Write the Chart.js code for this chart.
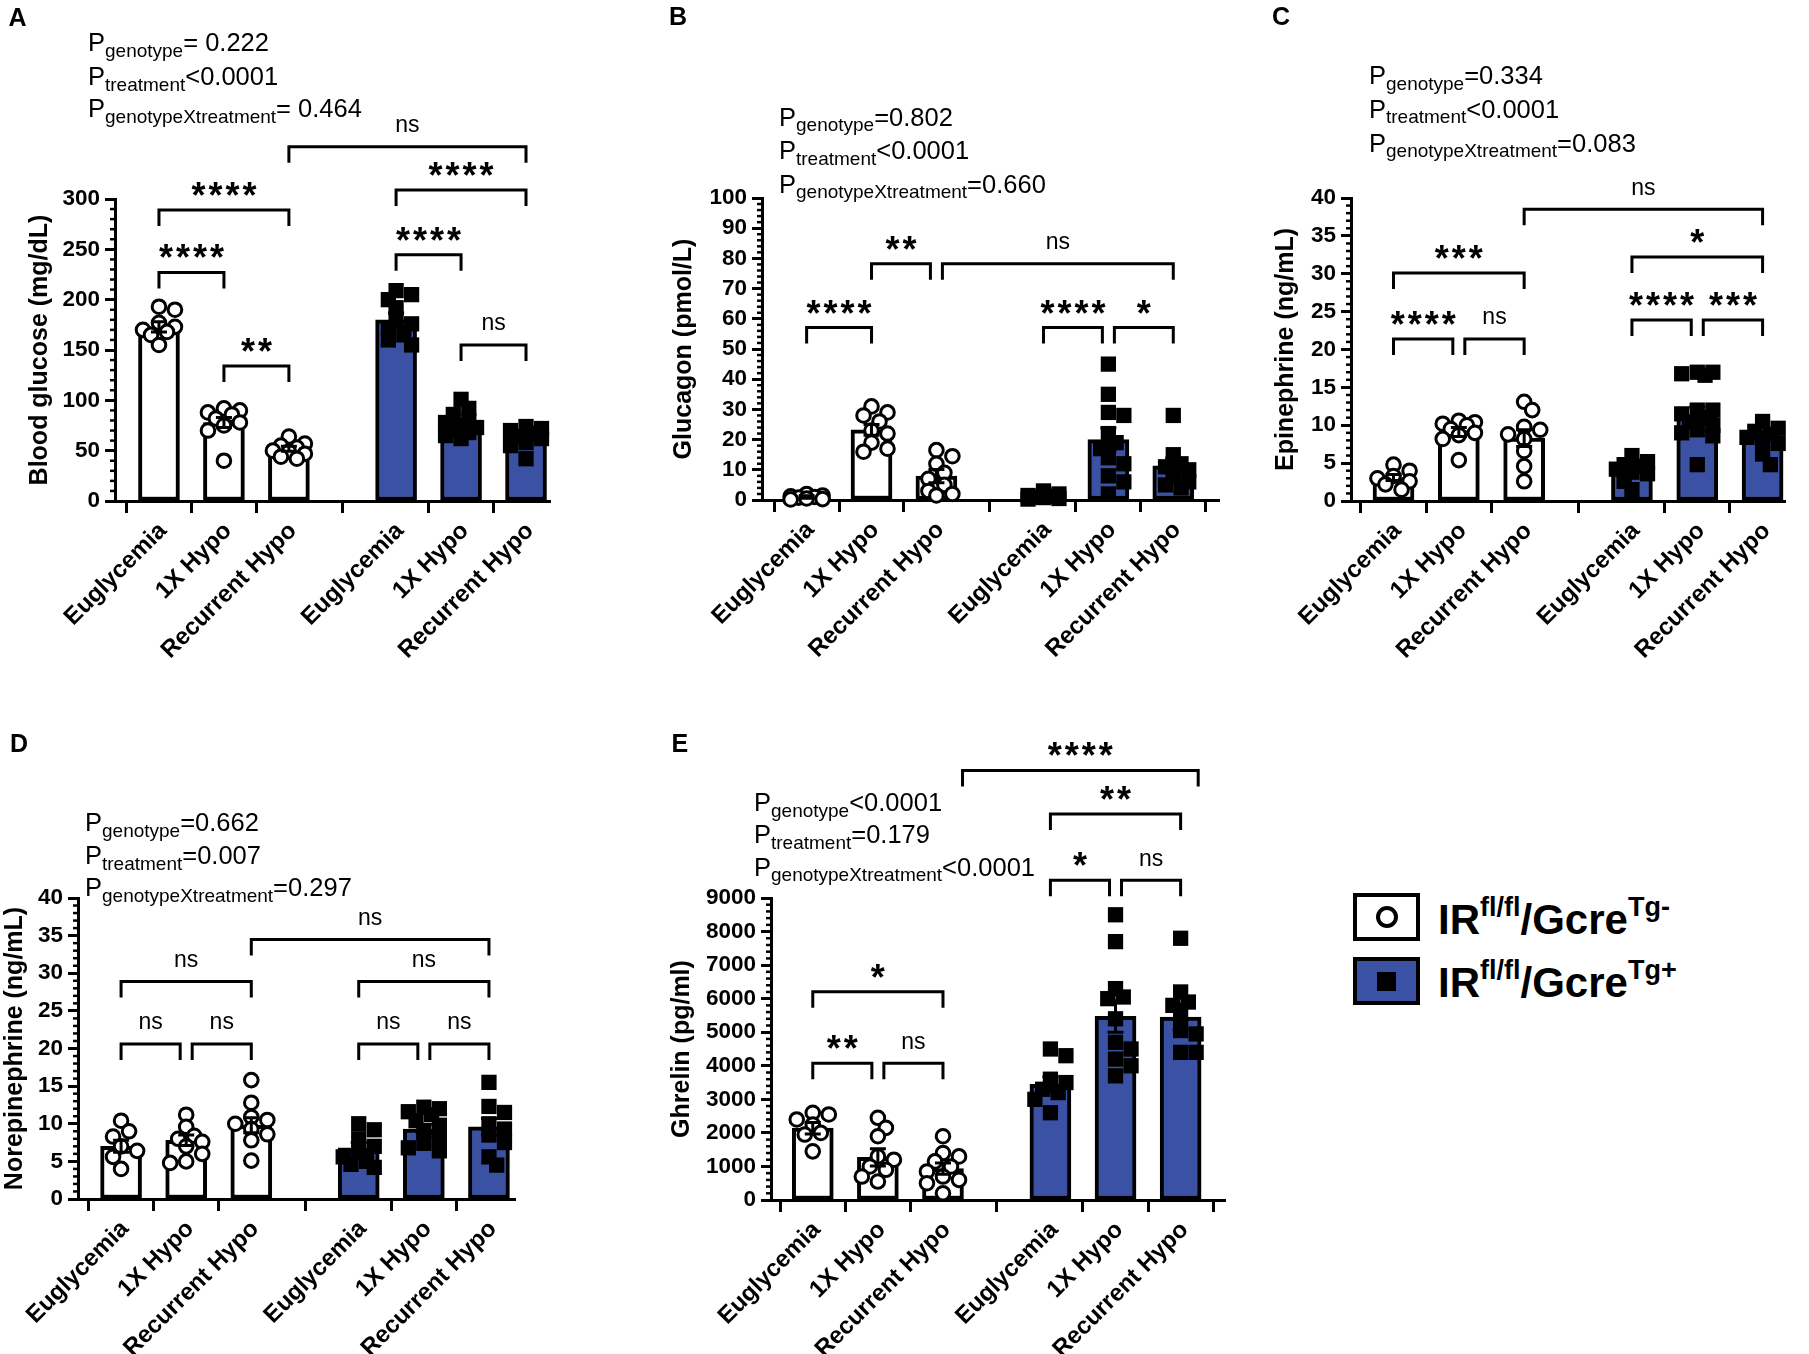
<!DOCTYPE html>
<html>
<head>
<meta charset="utf-8">
<script src="https://cdn.jsdelivr.net/npm/chart.js@4.4.0/dist/chart.umd.min.js"></script>
<style>
  body { margin: 0; background: #fff; width: 1809px; height: 1354px; position: relative; overflow: hidden;
         font-family: "Liberation Sans", Arial, sans-serif; }
  canvas { position: absolute; }
  .lgbox { position: absolute; width: 67px; height: 48px; border: 4px solid #000; box-sizing: border-box; }
  .lgcirc { position: absolute; left: 50%; top: 50%; width: 22px; height: 22px; margin: -11px 0 0 -11px;
            border: 4px solid #000; border-radius: 50%; box-sizing: border-box; }
  .lgsq { position: absolute; left: 50%; top: 50%; width: 19px; height: 19px; margin: -9.5px 0 0 -9.5px; background: #000; }
  .lgtext { position: absolute; font-weight: bold; font-size: 42px; line-height: 1; white-space: nowrap; }
  .lgtext .sup { font-size: 27px; vertical-align: 18px; line-height: 0; }
</style>
</head>
<body>
<div class="lgbox" style="left:1353px;top:893px;background:#fff"><div class="lgcirc"></div></div>
<div class="lgbox" style="left:1353px;top:957px;background:#3b51a3"><div class="lgsq"></div></div>
<div class="lgtext" style="left:1438px;top:899px">IR<span class="sup">fl/fl</span>/Gcre<span class="sup">Tg-</span></div>
<div class="lgtext" style="left:1438px;top:962px">IR<span class="sup">fl/fl</span>/Gcre<span class="sup">Tg+</span></div>

<script>
// Shared x categories (3 wild-type groups, then 3 knock-out groups)
const categories = ['Euglycemia', '1X Hypo', 'Recurrent Hypo', 'Euglycemia', '1X Hypo', 'Recurrent Hypo'];

// A - Blood glucose (mg/dL)
const glucoseMeans = [173, 78, 52, 180, 75, 63];
const glucoseSem = [5, 5, 2.5, 7, 3, 3];
const glucosePoints = [
    [193, 190, 177, 173, 170, 168, 165, 155],
    [92, 90, 88, 86, 82, 78, 75, 70, 40],
    [64, 57, 55, 53, 50, 49, 47, 44, 42],
    [209, 205, 200, 192, 180, 176, 172, 165, 160, 155],
    [101, 92, 86, 80, 78, 75, 73, 70, 68, 65, 62],
    [74, 72, 70, 67, 64, 62, 58, 55, 42]
];
const glucoseBrackets = [
    [0, 1, 227, '****'], [0, 2, 289, '****'], [1, 2, 134, '**'],
    [3, 4, 244.5, '****'], [3, 5, 309, '****'], [4, 5, 155, 'ns'], [2, 5, 352, 'ns']
];

// B - Glucagon (pmol/L)
const glucagonMeans = [1, 23.2, 7.9, 1.4, 20, 11.3];
const glucagonSem = [0.4, 1.8, 2.2, 0.5, 3.8, 2.6];
const glucagonPoints = [
    [2, 1.5, 1.2, 1, 0.8, 0.5, 0.3, 0.2],
    [31, 29, 28, 26, 23, 22, 19, 17, 16],
    [16.5, 14.5, 12, 9, 7, 5, 3, 2, 1.5],
    [3, 2, 1.5, 1.2, 1, 0.8, 0.5, 0.3],
    [45, 35, 29, 28, 22, 19, 17, 14, 12, 8, 6, 2],
    [28, 15, 12, 11, 10, 8, 6, 5, 4]
];
const glucagonBrackets = [
    [0, 1, 57.1, '****'], [1, 2, 78.2, '**'], [2, 5, 78.2, 'ns'],
    [3, 4, 57.1, '****'], [4, 5, 57.1, '*']
];

// C - Epinephrine (ng/mL)
const epiMeans = [3.1, 9.1, 8.3, 4.3, 11.4, 8.6];
const epiSem = [0.4, 0.6, 1.1, 0.5, 1.0, 0.6];
const epiPoints = [
    [4.8, 4, 3.3, 3, 2.6, 2.2, 1.5],
    [10.6, 10.4, 10.2, 10, 9.5, 9, 8.7, 8.2, 5.4],
    [13.1, 12, 9.8, 9.4, 8.8, 8.2, 6.6, 4.6, 2.6],
    [6, 5.2, 4.8, 4.6, 4.2, 3.8, 3.6, 2.6, 1.5],
    [17, 17, 16.8, 16.6, 12, 11.5, 12, 11, 10.4, 10, 9.4, 9, 8.6, 4.8],
    [10.5, 9.6, 9.2, 8.8, 8.4, 8, 7.6, 6.2, 4.8]
];
const epiBrackets = [
    [0, 1, 21.4, '****'], [1, 2, 21.4, 'ns'], [0, 2, 30.1, '***'], [2, 5, 38.5, 'ns'],
    [3, 4, 23.9, '****'], [4, 5, 23.9, '***'], [3, 5, 32.2, '*']
];

// D - Norepinephrine (ng/mL)
const norMeans = [7, 7.8, 9.8, 6.8, 9.3, 9.6];
const norSem = [0.8, 0.7, 1.0, 0.7, 0.6, 1.1];
const norPoints = [
    [10.4, 9, 8.3, 7, 6.4, 5.6, 4],
    [11.2, 9.6, 8.4, 8, 7.6, 7, 6, 5, 4.8],
    [15.8, 12.8, 10.9, 10.5, 10, 9.3, 8.6, 7.8, 5.1],
    [10, 9.2, 8, 7, 6.2, 5.6, 5, 4.6, 4.2],
    [12.2, 12, 11.6, 11.2, 10.4, 9.8, 9, 8.2, 7.4, 6.8, 6.4],
    [15.5, 12.3, 11.5, 10, 9.3, 8.5, 7.5, 5.6, 4.5]
];
const norBrackets = [
    [0, 1, 20.6, 'ns'], [1, 2, 20.6, 'ns'], [0, 2, 28.9, 'ns'], [2, 5, 34.5, 'ns'],
    [3, 4, 20.6, 'ns'], [4, 5, 20.6, 'ns'], [3, 5, 28.9, 'ns']
];

// E - Ghrelin (pg/ml)
const ghrelinMeans = [2140, 1270, 935, 3450, 5470, 5450];
const ghrelinSem = [170, 260, 170, 220, 470, 380];
const ghrelinPoints = [
    [2600, 2550, 2400, 2250, 2000, 1950, 1450],
    [2450, 2150, 1900, 1300, 1200, 1000, 900, 700, 550],
    [1900, 1400, 1300, 1150, 1000, 850, 700, 600, 500, 200],
    [4500, 4300, 3600, 3500, 3300, 3200, 3000, 2600],
    [8500, 7700, 6300, 6050, 6000, 5400, 4700, 4500, 4200, 4000, 3700],
    [7800, 6200, 5900, 5800, 5500, 5050, 4950, 4400, 4400]
];
const ghrelinBrackets = [
    [0, 1, 4075, '**'], [1, 2, 4075, 'ns'], [0, 2, 6208, '*'],
    [3, 4, 9528, '*'], [4, 5, 9528, 'ns'], [3, 5, 11505, '**'], [2, 5, 12800, '****', 0.3, 0.27]
];

const FONT = '"Liberation Sans", Arial, sans-serif';
const BLUE = '#3b51a3';
const BAR_POS = [0, 1, 2, 3.65, 4.65, 5.65];
const PX_PER_X = 65;     // pixels between neighbouring bars
const PLOT_H = 302;      // plot height in pixels

Chart.defaults.font.family = FONT;
Chart.defaults.color = '#000';

// spread points sideways so they don't sit on top of each other (like a scatter dot plot)
function swarm(values, pxPerY, diam) {
    const step = diam * 0.5;
    const minDist = diam * 0.7;
    const placed = [];
    const offs = new Array(values.length);
    values.map((v, i) => i).sort((a, b) => values[b] - values[a]).forEach(i => {
        const py = values[i] * pxPerY;
        let best = 0, bestD = -1;
        for (let k = 0; k < 5; k++) {
            const off = Math.ceil(k / 2) * step * (k % 2 ? 1 : -1);
            let d = Infinity;
            placed.forEach(p => { d = Math.min(d, Math.hypot(p[0] - off, p[1] - py)); });
            if (d >= minDist) { best = off; break; }
            if (d > bestD) { bestD = d; best = off; }
        }
        placed.push([best, py]);
        offs[i] = best;
    });
    return offs;
}

function drawLabel(ctx, text, cx, cy) {
    const stars = text.includes('*');
    ctx.font = stars ? `bold 36px ${FONT}` : `23px ${FONT}`;
    ctx.letterSpacing = stars ? '3px' : '0px';
    const m = ctx.measureText(text);
    const w = m.width - (stars ? 3 : 0);
    ctx.textAlign = 'left';
    ctx.textBaseline = 'alphabetic';
    ctx.fillText(text, cx - w / 2, cy + (m.actualBoundingBoxAscent - m.actualBoundingBoxDescent) / 2);
    ctx.letterSpacing = '0px';
}

// minor ticks, error bars, significance brackets, panel letter and ANOVA text
const panelDecor = {
    id: 'panelDecor',
    afterDraw(chart, args, opts) {
        const { ctx, scales: { x, y } } = chart;
        ctx.save();
        ctx.strokeStyle = '#000';
        ctx.fillStyle = '#000';
        ctx.lineJoin = 'miter';

        // minor ticks
        ctx.lineWidth = 2.5;
        const nMinor = Math.round(y.max / opts.minorStep);
        const perMajor = Math.round(opts.majorStep / opts.minorStep);
        for (let i = 1; i < nMinor; i++) {
            if (i % perMajor === 0) continue;
            const py = y.getPixelForValue(i * opts.minorStep);
            ctx.beginPath();
            ctx.moveTo(x.left - 5, py);
            ctx.lineTo(x.left, py);
            ctx.stroke();
        }

        // error bars (mean +/- SEM)
        ctx.lineWidth = 3;
        opts.means.forEach((m, i) => {
            const px = x.getPixelForValue(BAR_POS[i]);
            const top = y.getPixelForValue(m + opts.sem[i]);
            const bot = y.getPixelForValue(Math.max(0, m - opts.sem[i]));
            ctx.beginPath();
            ctx.moveTo(px, top); ctx.lineTo(px, bot);
            ctx.moveTo(px - 8, top); ctx.lineTo(px + 8, top);
            ctx.moveTo(px - 8, bot); ctx.lineTo(px + 8, bot);
            ctx.stroke();
        });

        // brackets
        opts.brackets.forEach(b => {
            const [i1, i2, level, label, d1 = 0, d2 = 0] = b;
            const same = opts.brackets.filter(o => o !== b && Math.abs(o[2] - level) < 1e-9);
            let x1 = x.getPixelForValue(BAR_POS[i1] + d1);
            let x2 = x.getPixelForValue(BAR_POS[i2] + d2);
            if (same.some(o => o[1] === i1)) x1 += 6;
            if (same.some(o => o[0] === i2)) x2 -= 6;
            const py = y.getPixelForValue(level);
            ctx.lineWidth = 3;
            ctx.beginPath();
            ctx.moveTo(x1, py + 16); ctx.lineTo(x1, py); ctx.lineTo(x2, py); ctx.lineTo(x2, py + 16);
            ctx.stroke();
            drawLabel(ctx, label, (x1 + x2) / 2, py - 21);
        });

        // panel letter
        ctx.textAlign = 'left';
        ctx.textBaseline = 'alphabetic';
        ctx.font = `bold 25px ${FONT}`;
        ctx.fillText(opts.letter, opts.letterAt[0] - opts.left, opts.letterAt[1] - opts.top);

        // P values
        opts.pLines.forEach(([sub, rest], k) => {
            let px = opts.pX - opts.left;
            const base = opts.pBase[k] - opts.top;
            ctx.font = `25.5px ${FONT}`;
            ctx.fillText('P', px, base);
            px += ctx.measureText('P').width;
            ctx.font = `19px ${FONT}`;
            ctx.fillText(sub, px, base + 5.5);
            px += ctx.measureText(sub).width;
            ctx.font = `25.5px ${FONT}`;
            ctx.fillText(rest, px, base);
        });
        ctx.restore();
    }
};

function makePanel(p) {
    const canvas = document.createElement('canvas');
    canvas.width = p.width;
    canvas.height = p.height;
    canvas.style.left = p.left + 'px';
    canvas.style.top = p.top + 'px';
    canvas.style.width = p.width + 'px';
    canvas.style.height = p.height + 'px';
    document.body.appendChild(canvas);

    const pxPerY = PLOT_H / p.yMax;
    const whitePts = [], bluePts = [];
    p.points.forEach((vals, g) => {
        const diam = g < 3 ? 16 : 15.5;
        const offs = swarm(vals, pxPerY, diam);
        vals.forEach((v, k) => {
            (g < 3 ? whitePts : bluePts).push({ x: BAR_POS[g] + offs[k] / PX_PER_X, y: v });
        });
    });

    const xMin = -(p.firstBar - p.axisX) / PX_PER_X;
    const xMax = BAR_POS[5] + (p.right - p.lastBar) / PX_PER_X;

    new Chart(canvas, {
        type: 'bar',
        data: {
            datasets: [
                {
                    type: 'bar',
                    data: BAR_POS.map((x, i) => ({ x, y: p.means[i] })),
                    backgroundColor: ['#fff', '#fff', '#fff', BLUE, BLUE, BLUE],
                    borderColor: '#000',
                    borderWidth: 4,
                    borderSkipped: false,
                    barThickness: 41,
                    order: 2
                },
                {
                    type: 'scatter',
                    data: whitePts,
                    pointStyle: 'circle',
                    pointRadius: 6.8,
                    pointHoverRadius: 6.8,
                    pointBorderWidth: 3,
                    pointBorderColor: '#000',
                    pointBackgroundColor: '#fff',
                    clip: false,
                    order: 1
                },
                {
                    type: 'scatter',
                    data: bluePts,
                    pointStyle: 'rect',
                    pointRadius: 10.8,
                    pointHoverRadius: 10.8,
                    pointBorderWidth: 0,
                    pointBackgroundColor: '#000',
                    clip: false,
                    order: 1
                }
            ]
        },
        options: {
            responsive: false,
            animation: false,
            events: [],
            layout: { padding: { left: 0, top: p.plotTop - p.top, right: p.left + p.width - p.right, bottom: 0 } },
            scales: {
                x: {
                    type: 'linear',
                    min: xMin,
                    max: xMax,
                    offset: false,
                    grid: { drawOnChartArea: false, drawTicks: true, tickLength: 12, tickWidth: 3, tickColor: '#000' },
                    border: { display: true, color: '#000', width: 3 },
                    ticks: {
                        autoSkip: false,
                        minRotation: 45,
                        maxRotation: 45,
                        padding: 4,
                        labelOffset: 4,
                        font: { size: 24, weight: 'bold' },
                        color: '#000',
                        callback: (v, i) => categories[i]
                    },
                    afterBuildTicks: s => { s.ticks = BAR_POS.map(v => ({ value: v })); },
                    afterFit: s => {
                        s.height = p.top + p.height - p.plotBottom;
                        s.paddingLeft = 0; s.paddingRight = 0;
                    }
                },
                y: {
                    type: 'linear',
                    min: 0,
                    max: p.yMax,
                    grid: { drawOnChartArea: false, drawTicks: true, tickLength: 10, tickWidth: 3, tickColor: '#000' },
                    border: { display: true, color: '#000', width: 3 },
                    ticks: {
                        stepSize: p.majorStep,
                        padding: 5,
                        font: { size: 22.5, weight: 'bold' },
                        color: '#000',
                        callback: v => String(v)
                    },
                    title: {
                        display: true,
                        text: p.yTitle,
                        font: { size: 25, weight: 'bold' },
                        color: '#000',
                        padding: { top: Math.max(0, p.titleX - p.left - 15), bottom: 0 }
                    },
                    afterFit: s => {
                        s.width = p.axisX - p.left;
                        s.paddingTop = 0; s.paddingBottom = 0;
                    }
                }
            },
            plugins: {
                legend: { display: false },
                tooltip: { enabled: false },
                panelDecor: {
                    left: p.left, top: p.top,
                    means: p.means, sem: p.sem, brackets: p.brackets,
                    majorStep: p.majorStep, minorStep: p.minorStep,
                    letter: p.letter, letterAt: p.letterAt,
                    pX: p.pX, pBase: p.pBase, pLines: p.pLines
                }
            }
        },
        plugins: [panelDecor]
    });
}

makePanel({
    left: 0, top: 0, width: 600, height: 700,
    axisX: 115, plotTop: 199, plotBottom: 501, right: 550, firstBar: 159, lastBar: 526,
    yMax: 300, majorStep: 50, minorStep: 10, yTitle: 'Blood glucose (mg/dL)', titleX: 40,
    means: glucoseMeans, sem: glucoseSem, points: glucosePoints, brackets: glucoseBrackets,
    letter: 'A', letterAt: [8.5, 26],
    pX: 88, pBase: [51, 85, 117],
    pLines: [['genotype', '= 0.222'], ['treatment', '<0.0001'], ['genotypeXtreatment', '= 0.464']]
});

makePanel({
    left: 600, top: 0, width: 630, height: 700,
    axisX: 762, plotTop: 198, plotBottom: 500, right: 1220, firstBar: 806.7, lastBar: 1174,
    yMax: 100, majorStep: 10, minorStep: 2, yTitle: 'Glucagon (pmol/L)', titleX: 684,
    means: glucagonMeans, sem: glucagonSem, points: glucagonPoints, brackets: glucagonBrackets,
    letter: 'B', letterAt: [669, 25],
    pX: 779, pBase: [125.5, 159, 192.6],
    pLines: [['genotype', '=0.802'], ['treatment', '<0.0001'], ['genotypeXtreatment', '=0.660']]
});

makePanel({
    left: 1230, top: 0, width: 579, height: 700,
    axisX: 1351, plotTop: 198, plotBottom: 501, right: 1785, firstBar: 1393.3, lastBar: 1762.7,
    yMax: 40, majorStep: 5, minorStep: 1, yTitle: 'Epinephrine (ng/mL)', titleX: 1286,
    means: epiMeans, sem: epiSem, points: epiPoints, brackets: epiBrackets,
    letter: 'C', letterAt: [1272, 25],
    pX: 1369, pBase: [84.4, 117.7, 151.5],
    pLines: [['genotype', '=0.334'], ['treatment', '<0.0001'], ['genotypeXtreatment', '=0.083']]
});

makePanel({
    left: 0, top: 700, width: 620, height: 654,
    axisX: 78, plotTop: 898, plotBottom: 1199, right: 515, firstBar: 121, lastBar: 489,
    yMax: 40, majorStep: 5, minorStep: 1, yTitle: 'Norepinephrine (ng/mL)', titleX: 14,
    means: norMeans, sem: norSem, points: norPoints, brackets: norBrackets,
    letter: 'D', letterAt: [10, 751.6],
    pX: 85, pBase: [831, 864, 896],
    pLines: [['genotype', '=0.662'], ['treatment', '=0.007'], ['genotypeXtreatment', '=0.297']]
});

makePanel({
    left: 640, top: 700, width: 620, height: 654,
    axisX: 771, plotTop: 898, plotBottom: 1200, right: 1225, firstBar: 812.7, lastBar: 1180.7,
    yMax: 9000, majorStep: 1000, minorStep: 200, yTitle: 'Ghrelin (pg/ml)', titleX: 682.6,
    means: ghrelinMeans, sem: ghrelinSem, points: ghrelinPoints, brackets: ghrelinBrackets,
    letter: 'E', letterAt: [671.6, 751.6],
    pX: 754, pBase: [811, 843, 875.6],
    pLines: [['genotype', '<0.0001'], ['treatment', '=0.179'], ['genotypeXtreatment', '<0.0001']]
});
</script>
</body>
</html>
